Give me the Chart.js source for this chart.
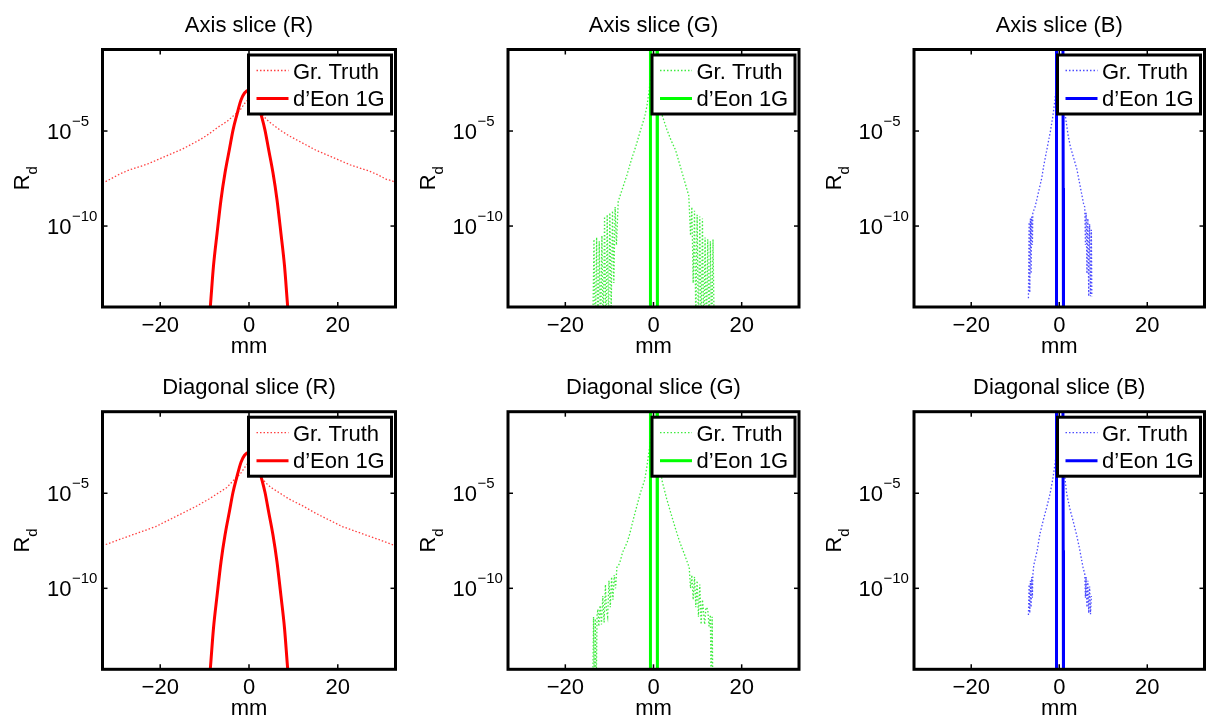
<!DOCTYPE html>
<html>
<head>
<meta charset="utf-8">
<script src="https://cdn.jsdelivr.net/npm/chart.js@4.4.1/dist/chart.umd.min.js"></script>
<style>
  html, body { margin: 0; padding: 0; background: #fff; }
  #wrap { position: relative; width: 1206px; height: 722px; overflow: hidden; }
  #wrap canvas { position: absolute; }
</style>
</head>
<body>
<div id="wrap">
  <canvas id="p0" width="402" height="361" style="left:0px;top:0px"></canvas>
  <canvas id="p1" width="402" height="361" style="left:402px;top:0px"></canvas>
  <canvas id="p2" width="402" height="361" style="left:804px;top:0px"></canvas>
  <canvas id="p3" width="402" height="361" style="left:0px;top:361px"></canvas>
  <canvas id="p4" width="402" height="361" style="left:402px;top:361px"></canvas>
  <canvas id="p5" width="402" height="361" style="left:804px;top:361px"></canvas>
</div>
<script>
// ---- data (x in mm, values given as log10 of R_d) ----
const xTicks = [-20, 0, 20];
const yTicks = [1e-10, 1e-5];
const X_MIN = -33, X_MAX = 33;
const Y_MIN = 5.5e-15, Y_MAX = 0.195;

// d'Eon 1G, red channel (same curve on both slices)
const deonR_x = [-9.2, -8.7, -8.0, -7.2, -6.3, -5.4, -4.4, -3.6, -2.8, -1.8, -1.0, 0, 1.0, 1.8, 2.8, 3.6, 4.4, 5.4, 6.3, 7.2, 8.0, 8.7, 9.2];
const deonR_e = [-15.5, -14.2, -12.1, -10.4, -8.6, -7.2, -5.95, -4.95, -4.2, -3.37, -3.0, -2.85, -3.0, -3.37, -4.2, -4.95, -5.95, -7.2, -8.6, -10.4, -12.1, -14.2, -15.5];

// d'Eon 1G, green / blue (very narrow peak)
const deonG_x = [-0.78, -0.72, -0.66, 0.08, 0.8, 0.86, 0.92];
const deonG_e = [-16, -8, -0.7, 0.5, -0.7, -8, -16];
const deonB_x = [-0.72, -0.66, -0.6, 0.14, 0.84, 0.9, 0.96];
const deonB_e = [-16, -8, -0.7, 0.5, -0.7, -8, -16];

// ground truth, axis slices
const axisR_x = [-33, -31, -29, -27, -25, -23, -21, -19, -17, -15, -13, -11, -9, -7, -5, -4, -3, -2, -1, 0,
                 1, 2, 3, 4, 5, 7, 9, 11, 13, 15, 17, 19, 21, 23, 25, 27, 29, 31, 32, 33];
const axisR_e = [-7.75, -7.5, -7.25, -7.05, -6.9, -6.75, -6.55, -6.35, -6.15, -5.95, -5.7, -5.45, -5.15, -4.8, -4.5, -4.3, -4.1, -3.9, -3.55, -3.3,
                 -3.55, -3.9, -4.15, -4.4, -4.6, -4.95, -5.25, -5.5, -5.75, -6.0, -6.2, -6.4, -6.6, -6.8, -6.95, -7.1, -7.3, -7.55, -7.6, -7.7];

const axisG_x = [-13.8, -13.5, -13.2, -12.9, -12.6, -12.3, -12.0, -11.7,
                 -11.4, -11.1, -10.8, -10.5, -10.2, -9.9, -9.6, -9.3, -9.0, -8.7, -8.4,
                 -8.0, -7.0, -6.0, -5.0, -4.0, -3.0, -2.0, -1.5, -1.0, -0.5, 0, 0.5, 1.0, 1.5, 2.0, 3.0, 4.0, 5.0, 6.0, 7.0, 8.0,
                 8.4, 8.7, 9.0, 9.3, 9.6, 9.9, 10.2, 10.5, 10.8, 11.1,
                 11.4, 11.7, 12.0, 12.3, 12.6, 12.9, 13.2, 13.5, 13.8];
const axisG_e = [-16, -10.7, -16, -10.6, -16, -10.8, -16, -10.5,
                 -16, -9.5, -16, -9.4, -15.5, -9.3, -14.5, -9.2, -13, -9.0, -11,
                 -8.7, -8.0, -7.3, -6.5, -5.8, -5.0, -4.25, -3.7, -2.9, -1.9, -0.9, -1.9, -2.9, -3.6, -4.2, -4.9, -5.5, -6.0, -6.8, -7.6, -8.4,
                 -10.5, -9.0, -13, -9.2, -15, -9.4, -16, -9.5, -16, -9.6,
                 -16, -10.6, -16, -10.7, -16, -10.8, -16, -10.7, -16];

const axisB_x = [-7.0, -6.85, -6.7, -6.55, -6.4, -6.25, -6.1, -6.0,
                 -5.5, -5.0, -4.5, -4.0, -3.5, -3.0, -2.5, -2.0, -1.5, -1.0, -0.6, -0.3, 0, 0.3, 0.6, 1.0, 1.5, 2.0, 2.5, 3.0, 3.5, 4.0, 4.5, 5.0, 5.5,
                 5.8, 5.95, 6.1, 6.3, 6.5, 6.7, 6.9, 7.1, 7.3, 7.4];
const axisB_e = [-13.8, -9.8, -13.5, -9.6, -12.5, -9.5, -11.0, -9.3,
                 -9.0, -8.5, -8.0, -7.5, -6.8, -6.2, -5.6, -5.0, -4.3, -3.4, -2.5, -1.8, -1.0, -1.8, -2.5, -3.4, -4.4, -5.2, -5.8, -6.2, -6.6, -7.0, -7.6, -8.2, -8.8,
                 -9.0, -11.0, -9.3, -12.5, -9.6, -13.7, -9.9, -13.7, -10.2, -13.7];

// ground truth, diagonal slices
const diagR_x = [-33, -30, -27, -24, -21, -18, -15, -12, -9, -7, -5, -4, -3, -2, -1, 0,
                 1, 2, 3, 4, 5, 7, 9, 12, 15, 18, 21, 24, 27, 30, 33];
const diagR_e = [-7.76, -7.5, -7.25, -7.0, -6.75, -6.4, -6.05, -5.7, -5.3, -5.0, -4.7, -4.45, -4.2, -4.0, -3.65, -3.35,
                 -3.65, -4.0, -4.25, -4.5, -4.7, -5.0, -5.3, -5.65, -6.05, -6.4, -6.75, -7.0, -7.25, -7.5, -7.76];

const diagG_x = [-13.8, -13.6, -13.4, -13.2, -13.0, -12.8, -12.6, -12.4, -12.1, -11.8, -11.5, -11.2, -10.9, -10.7, -10.4, -10.1, -9.8, -9.5, -9.2, -8.9, -8.6, -8.3,
                 -7.7, -7.0, -6.0, -5.4, -4.5, -3.0, -2.0, -1.5, -0.9, -0.5, 0, 0.5, 1.0, 1.5, 2.0, 3.0, 4.0, 5.1, 6.0, 7.0, 8.1,
                 8.4, 8.7, 9.0, 9.3, 9.6, 9.9, 10.2, 10.5, 10.8, 11.1, 11.3, 11.6, 11.9, 12.3, 12.6, 12.9, 13.1, 13.3, 13.5];
const diagG_e = [-16, -11.5, -16, -11.6, -15.5, -11.4, -11.1, -12.0, -10.9, -11.9, -10.4, -11.8, -9.8, -11.1, -11.5, -9.6, -11.0, -9.4, -10.6, -9.3, -10.0, -8.9,
                 -8.7, -8.1, -7.6, -7.15, -6.3, -5.0, -4.3, -3.6, -2.6, -1.8, -0.9, -1.8, -2.9, -3.7, -4.4, -5.3, -6.1, -6.95, -7.6, -8.2, -8.9,
                 -10.0, -9.3, -10.6, -9.4, -11.0, -9.6, -11.5, -9.8, -11.9, -10.6, -11.1, -11.9, -11.0, -11.1, -12.0, -11.4, -16, -11.5, -16];

const diagB_x = [-7.0, -6.85, -6.7, -6.55, -6.4, -6.25, -6.1, -6.0,
                 -5.8, -5.5, -5.0, -4.4, -3.5, -2.8, -2.1, -1.5, -1.0, -0.6, -0.3, 0, 0.3, 0.6, 1.0, 1.7, 2.5, 3.2, 3.9, 4.6, 5.4,
                 5.8, 5.95, 6.1, 6.3, 6.5, 6.7, 6.9, 7.1, 7.3];
const diagB_e = [-11.4, -9.8, -11.3, -9.6, -11.0, -9.4, -10.5, -9.3,
                 -8.8, -8.5, -8.0, -7.15, -6.3, -5.7, -5.04, -4.3, -3.5, -2.76, -1.9, -1.0, -1.9, -2.7, -3.6, -5.04, -5.9, -6.5, -7.15, -7.9, -8.9,
                 -9.25, -10.5, -9.4, -11.0, -9.6, -11.3, -9.9, -11.36, -10.4];

const titles = ['Axis slice (R)', 'Axis slice (G)', 'Axis slice (B)',
                'Diagonal slice (R)', 'Diagonal slice (G)', 'Diagonal slice (B)'];
const seriesNames = ['Gr. Truth', 'd\u2019Eon 1G'];

// ---- layout / style ----
const FONT = '"Liberation Sans", Arial, Helvetica, sans-serif';
const solid = { R: '#ff0000', G: '#00ff00', B: '#0000ff' };
const dotted = { R: 'rgba(255,0,0,0.75)', G: 'rgba(0,230,0,0.75)', B: 'rgba(0,0,255,0.7)' };
const colEdges = [[102.5, 395.5], [508, 799], [914, 1204.5]];
const rowEdges = [[49.5, 307], [411.7, 669.3]];
const CW = 402, CH = 361;

function pts(xs, es) {
  return xs.map((x, i) => ({ x: x, y: Math.pow(10, es[i]) }));
}

function line(ctx, x1, y1, x2, y2) {
  ctx.beginPath(); ctx.moveTo(x1, y1); ctx.lineTo(x2, y2); ctx.stroke();
}

function tickText(v) {
  return v < 0 ? '\u2212' + Math.abs(v) : String(v);
}

const matlabFrame = {
  id: 'matlabFrame',
  afterDraw(chart, args, opts) {
    const ctx = chart.ctx, a = chart.chartArea;
    const xs = chart.scales.x, ys = chart.scales.y;
    const cx = (a.left + a.right) / 2, cy = (a.top + a.bottom) / 2;
    ctx.save();

    // legend box
    const lw = 143, lh = 59;
    const lx = a.right - 4 - lw, ly = a.top + 5.5;
    ctx.fillStyle = '#fff';
    ctx.fillRect(lx, ly, lw, lh);
    ctx.lineWidth = 3; ctx.strokeStyle = '#000';
    ctx.strokeRect(lx, ly, lw, lh);
    chart.data.datasets.forEach((ds, i) => {
      const yy = ly + 15.5 + i * 28;
      ctx.save();
      ctx.strokeStyle = ds.borderColor;
      ctx.lineWidth = ds.borderWidth;
      ctx.setLineDash(ds.borderDash || []);
      line(ctx, lx + 8, yy, lx + 40, yy);
      ctx.restore();
      ctx.fillStyle = '#000';
      ctx.font = '22px ' + FONT;
      ctx.textAlign = 'left'; ctx.textBaseline = 'alphabetic';
      ctx.fillText(ds.label, lx + 44.5, ly + 24 + i * 27);
    });

    // axes box
    ctx.strokeStyle = '#000'; ctx.lineWidth = 3;
    ctx.strokeRect(a.left, a.top, a.right - a.left, a.bottom - a.top);

    // inward tick marks
    ctx.lineWidth = 1.5;
    xs.ticks.forEach(t => {
      const px = xs.getPixelForValue(t.value);
      line(ctx, px, a.bottom, px, a.bottom - 5);
      line(ctx, px, a.top, px, a.top + 5);
    });
    ys.ticks.forEach(t => {
      const py = ys.getPixelForValue(t.value);
      line(ctx, a.left, py, a.left + 5, py);
      line(ctx, a.right, py, a.right - 5, py);
    });

    ctx.fillStyle = '#000'; ctx.textBaseline = 'alphabetic';

    // x tick labels
    ctx.font = '22px ' + FONT; ctx.textAlign = 'center';
    xs.ticks.forEach(t => {
      ctx.fillText(tickText(t.value), xs.getPixelForValue(t.value), a.bottom + 24.5);
    });

    // y tick labels 10^n
    ys.ticks.forEach(t => {
      const py = ys.getPixelForValue(t.value);
      const ex = Math.round(Math.log10(t.value));
      ctx.font = '22px ' + FONT; ctx.textAlign = 'right';
      ctx.fillText('10', a.left - 31, py + 7.7);
      ctx.font = '15px ' + FONT; ctx.textAlign = 'left';
      ctx.fillText(tickText(ex), a.left - 30.5, py - 5.5);
    });

    // title and x label
    ctx.font = '22px ' + FONT; ctx.textAlign = 'center';
    ctx.fillText(opts.title, cx, a.top - 18);
    ctx.fillText('mm', cx, a.bottom + 46);

    // y label R_d
    ctx.save();
    ctx.translate(a.left - 73.5, cy);
    ctx.rotate(-Math.PI / 2);
    ctx.font = '22px ' + FONT;
    const wR = ctx.measureText('R').width;
    ctx.font = '15px ' + FONT;
    const wd = ctx.measureText('d').width;
    const x0 = -(wR + wd) / 2;
    ctx.textAlign = 'left';
    ctx.font = '22px ' + FONT; ctx.fillText('R', x0, 0);
    ctx.font = '15px ' + FONT; ctx.fillText('d', x0 + wR, 8);
    ctx.restore();

    ctx.restore();
  }
};

const panels = [
  { ch: 'R', tx: axisR_x, te: axisR_e, dx: deonR_x, de: deonR_e },
  { ch: 'G', tx: axisG_x, te: axisG_e, dx: deonG_x, de: deonG_e },
  { ch: 'B', tx: axisB_x, te: axisB_e, dx: deonB_x, de: deonB_e },
  { ch: 'R', tx: diagR_x, te: diagR_e, dx: deonR_x, de: deonR_e },
  { ch: 'G', tx: diagG_x, te: diagG_e, dx: deonG_x, de: deonG_e },
  { ch: 'B', tx: diagB_x, te: diagB_e, dx: deonB_x, de: deonB_e }
];

panels.forEach((p, i) => {
  const col = i % 3, row = Math.floor(i / 3);
  const [l, r] = colEdges[col], [t, b] = rowEdges[row];
  const pad = { left: l - col * CW, right: (col + 1) * CW - r, top: t - row * CH, bottom: (row + 1) * CH - b };

  new Chart(document.getElementById('p' + i), {
    type: 'line',
    data: {
      datasets: [
        { label: seriesNames[0], data: pts(p.tx, p.te), borderColor: dotted[p.ch], borderWidth: 1.3,
          borderDash: [1.5, 2], pointRadius: 0, tension: 0, fill: false },
        { label: seriesNames[1], data: pts(p.dx, p.de), borderColor: solid[p.ch], borderWidth: 3,
          pointRadius: 0, fill: false, cubicInterpolationMode: p.ch === 'R' ? 'monotone' : 'default', tension: 0 }
      ]
    },
    options: {
      responsive: false,
      animation: false,
      events: [],
      layout: { padding: pad },
      plugins: {
        legend: { display: false },
        tooltip: { enabled: false },
        matlabFrame: { title: titles[i] }
      },
      scales: {
        x: {
          type: 'linear', min: X_MIN, max: X_MAX,
          grid: { display: false, drawTicks: false },
          border: { display: false },
          ticks: { display: false },
          afterBuildTicks: s => { s.ticks = xTicks.map(v => ({ value: v })); },
          afterFit: s => { s.height = 0; }
        },
        y: {
          type: 'logarithmic', min: Y_MIN, max: Y_MAX,
          grid: { display: false, drawTicks: false },
          border: { display: false },
          ticks: { display: false },
          afterBuildTicks: s => { s.ticks = yTicks.map(v => ({ value: v })); },
          afterFit: s => { s.width = 0; }
        }
      }
    },
    plugins: [matlabFrame]
  });
});
</script>
</body>
</html>
